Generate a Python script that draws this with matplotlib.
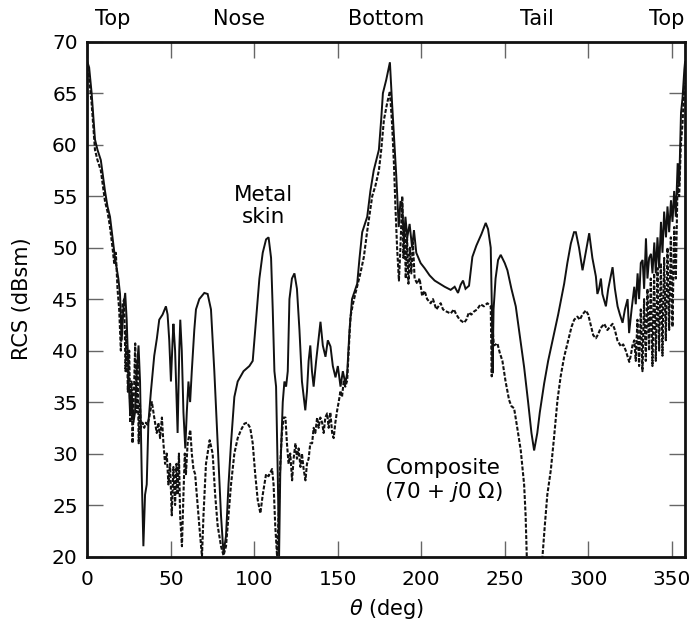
#!/usr/bin/env python3
"""RCS vs aspect angle: metal skin vs composite (70 + j0 ohm) skin."""

import matplotlib
matplotlib.use("Agg")
import matplotlib.pyplot as plt
from matplotlib import transforms

# -- metal skin (solid) -------------------------------------------------------
metal_theta = [
    0, 1, 2.5, 4.5, 6, 8, 10.5, 12, 13.5, 15, 16.5, 18.5, 19.5, 20.5, 21.5, 22.6,
    23.5, 24.5, 25.5, 26.5, 27.5, 28.5, 29.5, 30.6, 31.5, 32.5, 33.5, 34.5, 35.5,
    36.5, 38, 40, 41.6, 43, 45, 47, 48, 49, 50, 51, 51.5, 52.5, 54, 55, 55.6, 56.5,
    57.5, 58.6, 59.5, 60.5, 61.5, 62.5, 64, 65, 67, 70, 72, 74, 76, 78, 80, 81.5,
    83, 84.5, 86, 88, 90, 93.5, 97, 99, 101, 103, 105, 107, 108.5, 110, 111, 112,
    113, 114, 114.8, 115.5, 117, 118, 119, 120, 121, 122.5, 124, 125.5, 127, 128.5,
    130.5, 131.5, 132.5, 133.5, 134.5, 135.5, 137, 139.6, 141, 142.6, 144, 145.6,
    147, 148.6, 150, 151.6, 153, 154.5, 155.6, 157, 158.5, 161.6, 163, 164.6, 167.6,
    169.5, 171.5, 174.6, 176, 177, 179, 181.2, 182.5, 183.6, 185, 185.6, 186.5,
    187.5, 188.6, 189.5, 190.5, 191.6, 193, 194.5, 195.6, 197, 199.6, 202, 205, 208,
    211, 214, 217.6, 220, 222, 223.6, 225, 226.5, 228.6, 230.6, 233, 236, 238.6,
    240, 241.6, 242.3, 242.7, 243.3, 244.5, 246, 247.6, 250, 251.6, 254, 256.6, 259,
    261.6, 264, 266, 267.6, 269.5, 271, 273.6, 276, 279.6, 282, 285.6, 287.5, 289.6,
    291.5, 292.6, 294.5, 296.6, 298.5, 300.6, 302.5, 304.6, 305.5, 306.5, 307.6,
    308.5, 310.6, 312, 314.6, 316, 317.6, 319, 320.6, 322, 323.6, 324.5, 326, 327.6,
    328.5, 329.6, 330.5, 331.5, 332.6, 333.5, 334.6, 335.5, 336.5, 337.6, 338.5,
    339.6, 340.5, 341.5, 342.5, 343.6, 344.5, 345.5, 346.6, 347.5, 348.5, 349.6,
    350.5, 351.5, 352.5, 353.6, 354.5, 355.6, 356.5, 357.6, 358,
]
metal_rcs = [
    68.0, 67.5, 65, 60.5, 59.5, 58.5, 55.5, 54, 53, 51, 49, 47, 45.5, 41, 44, 45.6,
    43, 38, 34, 36, 33, 34, 38, 40.5, 37, 28, 21, 26, 27,
    33, 36, 39.5, 41.2, 43, 43.5, 44.3, 43.5, 41, 37, 41, 42.6, 40, 32, 40, 43, 40,
    34, 30.5, 34, 37, 35, 38, 42, 44, 45, 45.6, 45.5, 44, 38, 31, 24, 20.3,
    22, 27, 31, 35.5, 37, 38, 38.5, 39, 43, 47, 49.5, 50.8, 51, 49, 44, 38,
    36.5, 28, 20, 28, 35, 37, 36.5, 38, 45, 47, 47.5, 46, 42, 37,
    34.2, 36, 39, 40.5, 38, 36.5, 39, 42.8, 40.5, 39.4, 41, 40.4,
    38.5, 37.4, 38.5, 36.5, 38, 36.8, 37.8, 42, 45, 46.5, 49, 51.5, 53,
    55.5, 57.5, 59.5, 62.5, 65, 66.3, 68, 64, 61, 57, 55, 52,
    54.5, 54.3, 50.5, 53, 51, 52.3, 50, 51.7, 49.5, 48.5, 48, 47.3, 46.8,
    46.5, 46.2, 45.9, 46.2, 45.6, 46.4, 46.8, 46, 46.3, 49.1, 50.2, 51.3, 52.4,
    51.8, 50, 44, 37.8, 44, 47, 48.8, 49.3, 48.5, 47.8, 46, 44.3, 41.5,
    38.4, 35, 32, 30.3, 32, 34, 36.8, 39, 41.7, 43.5, 46.5, 48.5, 50.4,
    51.5, 51.5, 50, 47.8, 49.5, 51.4, 49, 47.2, 45.5, 46, 47,
    45.5, 44.3, 46, 48.1, 46, 44.3, 43.5, 42.7, 44, 45, 41.7, 44, 46.2,
    44.5, 47.5, 45, 48.5, 48.8, 46, 50.9, 47, 49, 49.4, 47.5,
    50.5, 47.5, 51, 48, 52.5, 49.5, 53.5, 51, 54, 51.5, 54.6,
    52.5, 55.5, 53, 58.2, 56, 63.1, 64.5, 67.3, 68,
]

# -- composite skin (dashed) --------------------------------------------------
comp_theta = [
    0, 1, 2.5, 4.5, 6, 8, 10.5, 12, 13.5, 15, 16, 17, 18, 19, 20, 21, 22, 22.8,
    23.5, 24.2, 25, 25.7, 26.4, 27, 27.7, 28.6, 29.3, 30, 30.7, 31.4, 32, 33, 34,
    35, 36, 37, 38.6, 40, 41.5, 42.5, 43.5, 44.6, 45.5, 46.5, 47.5, 48.5, 49.5,
    50.5, 51.5, 52.5, 53.3, 54, 54.8, 55.5, 56.6, 57.5, 58.3, 59, 60, 61.6, 62.5,
    63.5, 64.5, 65.5, 67, 68.6, 69.5, 71, 73.2, 75, 76.5, 78, 80, 81.5, 83, 84.5,
    86, 88, 90, 92, 94, 95.6, 97.5, 99, 100.5, 102, 103.6, 105, 107, 108.5, 110.6,
    111.5, 112.5, 113.6, 114.5, 115.5, 116.5, 117.5, 118.6, 119.5, 120.5, 121.5,
    122.6, 123.5, 124.6, 125.5, 126.5, 127.6, 128.5, 129.5, 130.6, 131.5, 132.5,
    133.5, 134.6, 135.5, 136.5, 137.6, 138.5, 139.5, 140.6, 141.5, 142.5, 143.6,
    144.5, 145.5, 146.6, 147.5, 148.5, 149.6, 150.5, 151.6, 152.5, 153.5, 154.5,
    155.6, 156.5, 157.6, 159, 160.6, 162, 163.5, 165.6, 167.5, 170.6, 172.5, 174.6,
    176, 177.6, 179.5, 181.2, 182.5, 183.6, 184.5, 185.5, 186.6, 187.5, 188.6,
    189.3, 190, 190.7, 191.5, 192.3, 193.2, 194, 195, 196, 197.6, 199, 200.5, 202,
    203.5, 205.6, 207, 209, 211.6, 213, 215, 217.6, 219.5, 221, 223, 225.6, 227,
    228.5, 230, 231.6, 233.5, 235.5, 237.5, 239.6, 241.6, 242.2, 242.8, 243.5,
    245.6, 247, 248.6, 250.5, 252.6, 254, 255.6, 257.5, 259.6, 261.6, 262.5, 263.2,
    265, 268, 271, 272.6, 274, 275.5, 277.6, 279.5, 281.6, 283.5, 285.6, 288, 290,
    291.6, 293.5, 295, 296.5, 298.6, 300, 301.5, 303, 304.6, 306, 307.5, 309.6,
    311.5, 313, 314.6, 316, 317.5, 319.6, 321, 322.5, 324.6, 325.5, 326.5, 327.6,
    328.5, 329.5, 330.5, 331.5, 332.5, 333.5, 334.5, 335.5, 336.5, 337.5, 338.5,
    339.5, 340.5, 341.5, 342.5, 343.5, 344.5, 345.5, 346.5, 347.5, 348.5, 349.5,
    350.5, 351.5, 352.5, 353.5, 354.5, 355.5, 356.5, 357.5, 358,
]
comp_rcs = [
    67.5, 66.5, 64, 59.5, 58.5, 57.5, 54.5, 53.5, 52, 50, 48.5, 49.5, 46, 44, 40,
    44.5, 45, 38,
    42, 36, 40, 33, 37, 31, 35, 40.7, 34, 39, 31, 35, 32.5, 33, 32.5,
    33, 32.8, 33.5, 35, 33.5, 32, 33, 31.5, 33.5, 31, 29, 30, 27, 29,
    24, 28.7, 25, 29, 26, 30, 24, 21, 26, 30, 28, 31, 32.3, 30,
    28.5, 28, 26, 23, 20, 24, 29, 31.3, 30, 26, 23, 21, 20.1, 21, 24,
    27, 30, 31.5, 32.3, 32.9, 33, 32.5, 31, 28, 25.5, 24.2, 26, 28, 27.8, 28.5,
    27, 23, 20, 24, 29, 32, 33.5, 33.5, 31, 29, 30,
    27.4, 29.5, 31, 29.5, 30.5, 28.7, 30, 28.5, 27.4, 29, 29.5,
    31, 31, 32.5, 32, 33.5, 32.5, 33.5, 33, 32, 33.5, 33.9,
    32.5, 34, 32, 31.5, 33, 34.2, 35, 36.1, 35.5, 37, 36.5,
    37.1, 40, 43.3, 44.5, 45.6, 46.5, 47.5, 49.1, 51.5, 55, 56, 57.5,
    59.5, 62.4, 64, 65.2, 62, 58.2, 54, 50, 46.8, 50, 55,
    49, 52, 47, 51, 46.5, 50, 47.5, 50.5, 47, 46.5, 47, 45.3, 45.8,
    45, 44.6, 45, 44, 44.6, 44, 43.8, 43.6, 44, 43.5, 43, 42.7, 43,
    43.7, 43.5, 43.8, 44, 44.5, 44.3, 44.6, 44.3, 37.5, 42, 40.5,
    40.7, 39.8, 39, 37, 35.2, 34.6, 34.4, 32.5, 30.3, 27, 24, 20,
    16, 14, 16, 20, 23, 26, 28.4, 31.5, 35.2, 37.5, 39.4, 41, 42.3,
    43, 43.3, 43, 43.5, 43.9, 43.5, 42.5, 41.5, 41.2, 41.6, 42.2, 42.6,
    42, 42.3, 42.6, 42, 41, 40.4, 40.6, 40, 38.9, 39.5, 40.5, 41,
    39, 43, 38.5, 44, 38, 45, 39, 46, 40, 47, 38.5,
    47.5, 39, 48, 40, 48.5, 39.5, 49, 41, 50, 42, 51,
    42.3, 52, 47, 56, 55, 60, 62, 65.5, 66,
]

top_labels = ["Top", "Nose", "Bottom", "Tail", "Top"]
top_label_theta = [15, 91, 179, 269.5, 347]
x_ticks = [0, 50, 100, 150, 200, 250, 300, 350]
y_ticks = [20, 25, 30, 35, 40, 45, 50, 55, 60, 65, 70]


def main():
    plt.rcParams["font.family"] = ["DejaVu Sans"]
    plt.rcParams["mathtext.fontset"] = "dejavusans"

    fig = plt.figure(figsize=(6.92, 6.28), dpi=100, facecolor="white")
    ax = fig.add_axes([0.1264, 0.1138, 0.8635, 0.8198])

    ax.plot(metal_theta, metal_rcs, color="#111111", lw=1.4,
            solid_joinstyle="miter")
    line, = ax.plot(comp_theta, comp_rcs, color="#111111", lw=1.5)
    line.set_dashes([1.9, 0.85])

    ax.set_xlim(0, 358)
    ax.set_ylim(20, 70)
    ax.set_xticks(x_ticks)
    ax.set_yticks(y_ticks)
    ax.tick_params(direction="in", length=11.5, width=1.0, color="#666666",
                   labelsize=14.5, top=True, right=True)
    ax.tick_params(axis="x", pad=10)
    ax.tick_params(axis="y", pad=7)
    for s in ax.spines.values():
        s.set_linewidth(2.0)
        s.set_color("#111111")

    ax.set_xlabel(r"$\theta$ (deg)", fontsize=15)
    ax.set_ylabel("RCS (dBsm)", fontsize=15)
    ax.xaxis.set_label_coords(0.5, -0.079)
    ax.yaxis.set_label_coords(-0.092, 0.5)

    # aspect names along the top edge
    trans = transforms.blended_transform_factory(ax.transData, ax.transAxes)
    for name, th in zip(top_labels, top_label_theta):
        ax.text(th, 1.032, name, transform=trans, ha="center", va="baseline",
                fontsize=15, clip_on=False)

    ax.text(105.7, 54.0, "Metal\nskin", ha="center", va="center", fontsize=15.5,
            linespacing=1.12)
    ax.text(213, 27.3, "Composite\n" + r"(70 + $j$0 Ω)", ha="center",
            va="center", fontsize=15.5, linespacing=1.12)

    fig.savefig("out.png", dpi=100, facecolor="white")


if __name__ == "__main__":
    main()
